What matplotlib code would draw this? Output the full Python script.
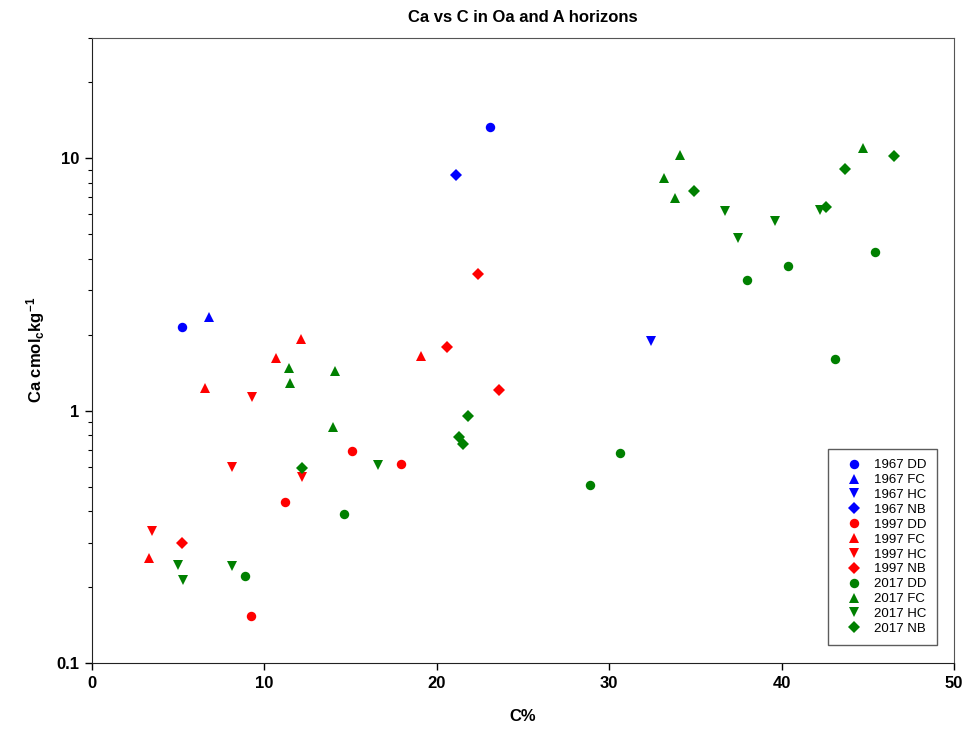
import numpy as np
import matplotlib
matplotlib.use('Agg')
import matplotlib.pyplot as plt
from matplotlib.ticker import LogLocator, FixedLocator, NullFormatter

plt.rcParams['font.family'] = ['Liberation Sans', 'DejaVu Sans']
plt.rcParams['mathtext.default'] = 'regular'

# C% and Ca (cmolc/kg) by sampling year and site
c_1967_dd = [5.2, 23.1]
ca_1967_dd = [2.14, 13.3]
c_1967_fc = [6.8]
ca_1967_fc = [2.34]
c_1967_hc = [32.4]
ca_1967_hc = [1.88]
c_1967_nb = [21.1]
ca_1967_nb = [8.6]

c_1997_dd = [11.2, 15.1, 17.9, 9.2]
ca_1997_dd = [0.435, 0.69, 0.615, 0.153]
c_1997_fc = [3.3, 6.55, 10.7, 12.1, 19.1]
ca_1997_fc = [0.26, 1.23, 1.61, 1.93, 1.65]
c_1997_hc = [3.5, 9.3, 8.1, 12.2]
ca_1997_hc = [0.333, 1.13, 0.60, 0.547]
c_1997_nb = [5.2, 20.6, 22.4, 23.6]
ca_1997_nb = [0.30, 1.78, 3.47, 1.21]

c_2017_dd = [8.9, 14.6, 28.9, 30.6, 38.0, 40.4, 45.4, 43.1]
ca_2017_dd = [0.221, 0.389, 0.508, 0.681, 3.29, 3.74, 4.25, 1.60]
c_2017_fc = [11.4, 11.5, 14.1, 14.0, 34.1, 33.2, 33.8, 44.7]
ca_2017_fc = [1.47, 1.29, 1.43, 0.864, 10.3, 8.37, 6.97, 11.0]
c_2017_hc = [5.0, 5.3, 8.1, 16.6, 36.7, 37.5, 39.6, 42.2]
ca_2017_hc = [0.244, 0.213, 0.242, 0.61, 6.18, 4.83, 5.64, 6.24]
c_2017_nb = [12.2, 21.8, 21.3, 21.5, 34.9, 43.7, 46.5, 42.6]
ca_2017_nb = [0.593, 0.955, 0.788, 0.739, 7.43, 9.08, 10.2, 6.41]

series = [
    ('1967 DD', c_1967_dd, ca_1967_dd, 'blue', 'o'),
    ('1967 FC', c_1967_fc, ca_1967_fc, 'blue', '^'),
    ('1967 HC', c_1967_hc, ca_1967_hc, 'blue', 'v'),
    ('1967 NB', c_1967_nb, ca_1967_nb, 'blue', 'D'),
    ('1997 DD', c_1997_dd, ca_1997_dd, 'red', 'o'),
    ('1997 FC', c_1997_fc, ca_1997_fc, 'red', '^'),
    ('1997 HC', c_1997_hc, ca_1997_hc, 'red', 'v'),
    ('1997 NB', c_1997_nb, ca_1997_nb, 'red', 'D'),
    ('2017 DD', c_2017_dd, ca_2017_dd, 'green', 'o'),
    ('2017 FC', c_2017_fc, ca_2017_fc, 'green', '^'),
    ('2017 HC', c_2017_hc, ca_2017_hc, 'green', 'v'),
    ('2017 NB', c_2017_nb, ca_2017_nb, 'green', 'D'),
]

fig = plt.figure(figsize=(9.65, 7.31), dpi=100)
ax = fig.add_axes([0.0953, 0.093, 0.8933, 0.8554])

for label, x, y, col, mk in series:
    ms = 6.2 if mk == 'D' else 6.8
    ax.plot(x, y, linestyle='none', marker=mk, color=col, markersize=ms,
            markeredgewidth=0, label=label)

ax.set_yscale('log')
ax.set_xlim(0, 50)
ax.set_ylim(0.1, 30)
ax.xaxis.set_major_locator(FixedLocator([0, 10, 20, 30, 40, 50]))
ax.yaxis.set_major_locator(FixedLocator([0.1, 1, 10]))
ax.yaxis.set_minor_locator(LogLocator(base=10, subs=np.arange(2, 10)))
ax.yaxis.set_minor_formatter(NullFormatter())
ax.set_yticklabels(['0.1', '1', '10'])

ax.tick_params(axis='both', which='major', direction='out', length=5, width=1,
               labelsize=12, pad=4, top=False, right=False)
ax.tick_params(axis='y', which='minor', direction='out', length=3, width=0.8,
               right=False)
for lab in ax.get_xticklabels() + ax.get_yticklabels():
    lab.set_fontweight('bold')
for side in ['left', 'bottom']:
    ax.spines[side].set_color('#222222')
for side in ['top', 'right']:
    ax.spines[side].set_color('#555555')

ax.set_title('Ca vs C in Oa and A horizons', fontsize=12, fontweight='bold', pad=11)
ax.set_xlabel('C%', fontsize=12, fontweight='bold', labelpad=13)
ax.set_ylabel(r'Ca cmol$_{c}$kg$^{-1}$', fontsize=12, fontweight='bold', labelpad=7)

leg = ax.legend(loc='lower right', bbox_to_anchor=(0.980, 0.029), borderaxespad=0,
                fontsize=9.5, frameon=True, fancybox=False, handletextpad=0.25,
                labelspacing=0.2, borderpad=0.75, handlelength=2.55)
leg.get_frame().set_edgecolor('#333333')
leg.get_frame().set_linewidth(1)

plt.savefig('out.png', dpi=100)
